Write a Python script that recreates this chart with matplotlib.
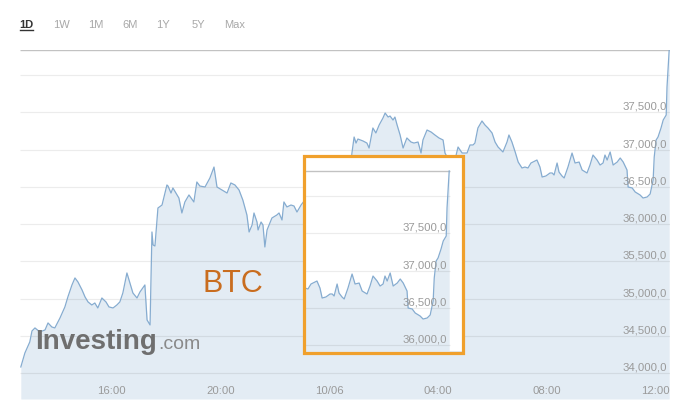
import matplotlib.pyplot as plt
from matplotlib.patches import Rectangle
from matplotlib.lines import Line2D

plt.rcParams['font.family'] = ['Liberation Sans', 'DejaVu Sans']

# BTC price, hours from 10/06 00:00
hours = [-11.29, -11.14, -10.96, -10.88, -10.77, -10.59, -10.40, -10.29, -10.15, -10.04,
         -9.85, -9.67, -9.56, -9.41, -9.30, -9.19, -9.04, -8.93, -8.82, -8.68,
         -8.57, -8.46, -8.31, -8.16, -8.05, -7.90, -7.76, -7.65, -7.54, -7.39,
         -7.28, -7.17, -7.02, -6.91, -6.73, -6.65, -6.54, -6.47, -6.43, -6.36,
         -6.25, -6.10, -5.92, -5.88, -5.77, -5.70, -5.55, -5.48, -5.37, -5.26,
         -5.11, -4.93, -4.82, -4.71, -4.52, -4.34, -4.19, -4.08, -3.90, -3.71,
         -3.57, -3.42, -3.27, -3.13, -2.98, -2.90, -2.79, -2.72, -2.61, -2.57,
         -2.46, -2.39, -2.32, -2.24, -2.06, -1.88, -1.80, -1.69, -1.62, -1.51,
         -1.36, -1.25, -1.14, -0.99, -0.85, -0.59, -0.29, 0.00, 0.29, 0.59,
         0.81, 0.88, 0.96, 1.03, 1.10, 1.29, 1.43, 1.51, 1.65, 1.76,
         1.88, 2.02, 2.10, 2.21, 2.28, 2.39, 2.46, 2.54, 2.65, 2.76,
         2.90, 3.05, 3.16, 3.31, 3.42, 3.49, 3.64, 3.79, 3.93, 4.08,
         4.23, 4.30, 4.38, 4.56, 4.71, 4.78, 4.93, 5.11, 5.22, 5.33,
         5.40, 5.51, 5.66, 5.77, 5.88, 6.03, 6.14, 6.25, 6.43, 6.58,
         6.65, 6.76, 6.88, 6.99, 7.13, 7.24, 7.35, 7.46, 7.68, 7.79,
         7.87, 8.01, 8.16, 8.24, 8.31, 8.42, 8.49, 8.60, 8.68, 8.82,
         8.97, 9.08, 9.23, 9.34, 9.52, 9.63, 9.74, 9.89, 10.00, 10.11,
         10.18, 10.26, 10.37, 10.48, 10.63, 10.74, 10.85, 10.99, 11.03, 11.18,
         11.29, 11.47, 11.58, 11.73, 11.84, 11.95, 11.99, 12.06, 12.13, 12.24,
         12.32, 12.43, 12.46, 12.54]
price = [34081, 34269, 34417, 34564, 34605, 34551, 34578, 34672, 34618, 34605,
         34739, 34887, 35021, 35182, 35276, 35222, 35115, 35021, 34954, 34913,
         34940, 34873, 35007, 34954, 34887, 34873, 34913, 34954, 35074, 35343,
         35209, 35074, 35007, 35088, 35182, 34712, 34645, 35893, 35719, 35705,
         36215, 36255, 36524, 36510, 36416, 36484, 36390, 36349, 36148, 36296,
         36390, 36296, 36564, 36510, 36497, 36618, 36765, 36497, 36457, 36416,
         36551, 36524, 36457, 36322, 36121, 35893, 35987, 36148, 36027, 35920,
         36027, 35987, 35692, 35920, 36081, 36121, 36148, 36054, 36296, 36229,
         36255, 36242, 36161, 36255, 36322, 36390, 36457, 36524, 36590, 36618,
         36658, 36953, 37168, 37087, 37141, 37114, 37087, 37020, 37289, 37222,
         37329, 37423, 37490, 37436, 37450, 37396, 37436, 37329, 37195, 37020,
         37155, 37101, 37087, 37101, 36953, 37128, 37262, 37235, 37195, 37155,
         37128, 36953, 36900, 36792, 36926, 37034, 36953, 36953, 37061, 37061,
         37087, 37289, 37383, 37329, 37289, 37222, 37101, 37034, 36967, 37101,
         37195, 37101, 36967, 36832, 36752, 36765, 36752, 36819, 36859, 36765,
         36631, 36645, 36685, 36685, 36658, 36819, 36698, 36645, 36618, 36765,
         36953, 36819, 36832, 36725, 36685, 36792, 36926, 36859, 36792, 36819,
         36926, 36859, 36967, 36792, 36832, 36886, 36832, 36725, 36497, 36484,
         36430, 36390, 36349, 36363, 36403, 36591, 36900, 37128, 37168, 37289,
         37396, 37463, 37839, 38336]

xtick_pos = [-8, -4, 0, 4, 8, 12]
xtick_labels = ['16:00', '20:00', '10/06', '04:00', '08:00', '12:00']
ytick_vals = [34000, 34500, 35000, 35500, 36000, 36500, 37000, 37500]
grid_vals = ytick_vals + [38000]
ranges = ['1D', '1W', '1M', '6M', '1Y', '5Y', 'Max']
range_x = [26, 61, 96, 130, 163, 198, 235]

W, H = 684, 419
x_lo, x_hi = -11.32, 12.57
y_lo, y_hi = 33651, 38336

line_c = '#86acd0'
fill_c = '#e3ecf4'
lab_c = '#9a9a9a'


def draw(ax, ylim):
    ax.fill_between(hours, price, y_lo, color=fill_c, lw=0, zorder=1)
    ax.hlines(grid_vals, x_lo, x_hi, color='black', alpha=0.075, lw=0.9, zorder=2)
    ax.hlines(y_hi, x_lo, x_hi, color='#c2c2c2', lw=1.0, zorder=2)
    ax.plot(hours, price, color=line_c, lw=0.9, zorder=3)
    for v in ytick_vals:
        if ylim[0] < v < ylim[1]:
            ax.annotate(f'{v:,.0f},0', (x_hi - 0.11, v), xytext=(0, 0.3),
                        textcoords='offset points', ha='right', va='bottom',
                        fontsize=8.2, color=lab_c, zorder=4)
    ax.set_ylim(*ylim)
    ax.axis('off')


fig = plt.figure(figsize=(W / 100, H / 100), dpi=100)

ax = fig.add_axes([20 / W, 1 - 399 / H, 650 / W, 349 / H])
draw(ax, (y_lo, y_hi))
ax.set_xlim(x_lo, x_hi)
for p, lab in zip(xtick_pos, xtick_labels):
    ax.text(p + 0.05, 0.022, lab, transform=ax.get_xaxis_transform(), ha='center',
            va='center', fontsize=8.2, color=lab_c, zorder=4)

# zoomed copy inside the orange box
axi = fig.add_axes([305 / W, 1 - 351 / H, 157 / W, 193 / H], zorder=5)
axi.set_facecolor('white')
draw(axi, (35920, 38510))
axi.set_xlim(7.24, 13.01)
axi.axis('on')
for s in axi.spines.values():
    s.set_visible(False)
axi.set_xticks([])
axi.set_yticks([])

fig.add_artist(Rectangle((303.5 / W, 1 - 352.5 / H), 160 / W, 196 / H,
                         transform=fig.transFigure, fill=False, ec='#f0a02c',
                         lw=2.3, zorder=10))

# range buttons
for lab, x in zip(ranges, range_x):
    if lab == '1D':
        fig.text(x / W, 1 - 24.5 / H, lab, ha='center', va='center', fontsize=8,
                 fontweight='bold', color='#333333')
    else:
        fig.text(x / W, 1 - 24.5 / H, lab, ha='center', va='center', fontsize=8,
                 color='#a8a8a8')
fig.add_artist(Line2D([20 / W, 33 / W], [1 - 30.5 / H] * 2, color='#333333', lw=1))

fig.text(233 / W, 1 - 284 / H, 'BTC', ha='center', va='center', fontsize=22,
         color='#c96d1f', zorder=6)

fig.text(35 / W, 1 - 349 / H, 'Investing', ha='left', va='baseline', fontsize=20,
         fontweight='bold', color='#6f6f6f', zorder=6)
fig.text(158 / W, 1 - 349 / H, '.com', ha='left', va='baseline', fontsize=14,
         color='#8a8a8a', zorder=6)

fig.savefig('out.png', dpi=100, facecolor='white')
